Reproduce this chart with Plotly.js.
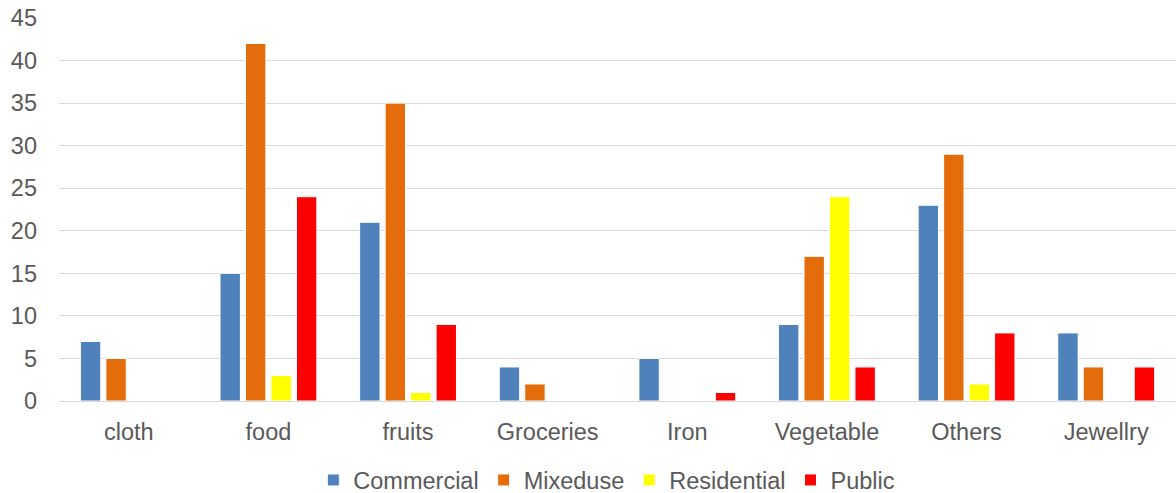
<!DOCTYPE html>
<html>
<head>
<meta charset="utf-8">
<script src="https://cdn.plot.ly/plotly-3.0.1.min.js"></script>
<style>html,body{margin:0;padding:0;background:#fff;}#chart{width:1176px;height:493px;}</style>
</head>
<body>
<div id="chart"></div>
<script>
// Shop counts by trade type and land use
const categories = ["cloth", "food", "fruits", "Groceries", "Iron", "Vegetable", "Others", "Jewellry"];
const commercial = [7, 15, 21, 4, 5, 9, 23, 8];
const mixeduse = [5, 42, 35, 2, 0, 17, 29, 4];
const residential = [0, 3, 1, 0, 0, 24, 2, 0];
const publicUse = [0, 24, 9, 0, 1, 4, 8, 4];
const yTicks = [0, 5, 10, 15, 20, 25, 30, 35, 40, 45];

const series = [
  {name: "Commercial", values: commercial, color: "#4F81BD"},
  {name: "Mixeduse", values: mixeduse, color: "#E46C0A"},
  {name: "Residential", values: residential, color: "#FFFF00"},
  {name: "Public", values: publicUse, color: "#FF0000"}
];

const traces = series.map(s => ({
  type: "bar",
  name: s.name,
  x: categories,
  y: s.values,
  marker: {color: s.color, line: {color: "#ffffff", width: 1}},
  hoverinfo: "x+y+name"
}));

const font = {family: "Liberation Sans, Arial, sans-serif", size: 23.5, color: "#595959"};

const layout = {
  width: 1176,
  height: 493,
  margin: {l: 59, r: 0, t: 18, b: 92},
  paper_bgcolor: "#ffffff",
  plot_bgcolor: "#ffffff",
  font: font,
  barmode: "group",
  bargap: 0.27,
  bargroupgap: 0.2,
  showlegend: true,
  legend: {
    orientation: "h",
    xref: "container",
    yref: "container",
    x: 0.516, xanchor: "center",
    y: 0.026, yanchor: "middle",
    font: font,
    itemwidth: 30,
    tracegroupgap: 0,
    traceorder: "normal"
  },
  xaxis: {
    type: "category",
    tickfont: font,
    showgrid: false,
    showline: true,
    linecolor: "#d9d9d9",
    linewidth: 1,
    ticks: "",
    ticklen: 0,
    ticklabelstandoff: 10,
    automargin: false
  },
  yaxis: {
    range: [0, 45],
    tickvals: yTicks,
    ticktext: yTicks.map(String),
    tickfont: font,
    showgrid: true,
    gridcolor: "#d9d9d9",
    gridwidth: 1,
    zeroline: false,
    showline: false,
    ticks: "",
    ticklabelstandoff: 21,
    automargin: false
  }
};

Plotly.newPlot("chart", traces, layout, {displayModeBar: false, staticPlot: true});
</script>
</body>
</html>
